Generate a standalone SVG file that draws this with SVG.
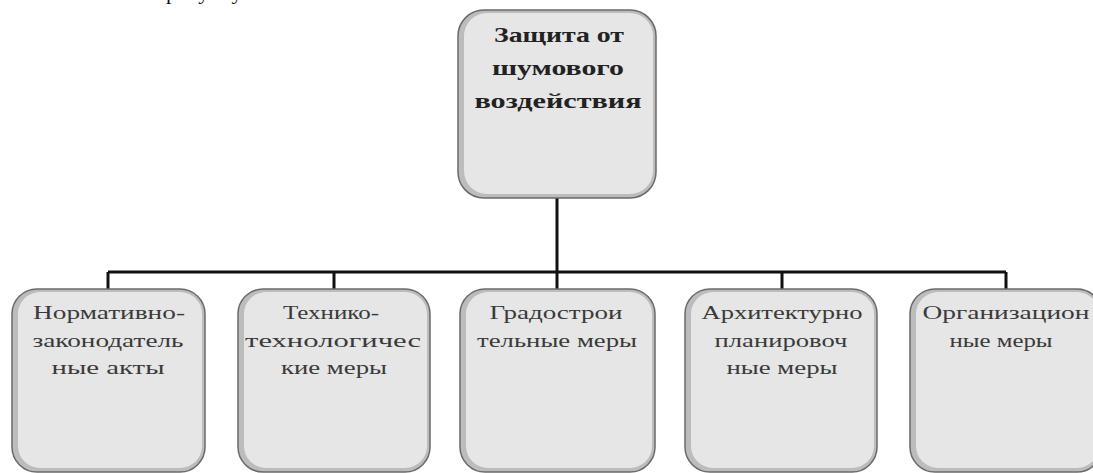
<svg xmlns="http://www.w3.org/2000/svg" width="1093" height="473" viewBox="0 0 1093 473">
<style>
.outer{fill:#bcbcbc;stroke:#6a6a6a;stroke-width:1.5}
.inner{fill:#e6e6e6}
.lbl{font-family:"Liberation Serif","Times New Roman",serif;font-size:18px;fill:#3a3a3a;text-anchor:middle}
.top{font-family:"Liberation Serif","Times New Roman",serif;font-size:21px;font-weight:bold;fill:#222;text-anchor:middle}
.conn{stroke:#111;stroke-width:3;fill:none}
</style>
<rect width="1093" height="473" fill="#fff"/>
<text x="166" y="-1" font-family="Liberation Serif, serif" font-size="22" fill="#111">рисунку</text>
<g id="connectors">
<path class="conn" d="M557 198 V272 M108 272 H1006 M108 272 V289 M334 272 V289 M557 272 V289 M782 272 V289 M1006 272 V289"/>
</g>
<g id="root">
<rect class="outer" x="458" y="10" width="198" height="188" rx="26"/>
<rect class="inner" x="464" y="13" width="189" height="181" rx="23"/>
<text class="top" x="559" y="42" textLength="130" lengthAdjust="spacingAndGlyphs">Защита от</text>
<text class="top" x="558" y="75" textLength="132" lengthAdjust="spacingAndGlyphs">шумового</text>
<text class="top" x="558" y="108" textLength="167" lengthAdjust="spacingAndGlyphs">воздействия</text>
</g>
<g id="n1">
<rect class="outer" x="12" y="289" width="193" height="183" rx="25"/>
<rect class="inner" x="18" y="292" width="184" height="176" rx="22"/>
<text class="lbl" x="109" y="319" textLength="152" lengthAdjust="spacingAndGlyphs">Нормативно-</text>
<text class="lbl" x="108" y="347" textLength="151" lengthAdjust="spacingAndGlyphs">законодатель</text>
<text class="lbl" x="108" y="374" textLength="113" lengthAdjust="spacingAndGlyphs">ные  акты</text>
</g>
<g id="n2">
<rect class="outer" x="238" y="289" width="192" height="183" rx="25"/>
<rect class="inner" x="244" y="292" width="183" height="176" rx="22"/>
<text class="lbl" x="331" y="319" textLength="96" lengthAdjust="spacingAndGlyphs">Технико-</text>
<text class="lbl" x="333" y="347" textLength="176" lengthAdjust="spacingAndGlyphs">технологичес</text>
<text class="lbl" x="334" y="374" textLength="106" lengthAdjust="spacingAndGlyphs">кие меры</text>
</g>
<g id="n3">
<rect class="outer" x="460" y="289" width="195" height="183" rx="25"/>
<rect class="inner" x="466" y="292" width="186" height="176" rx="22"/>
<text class="lbl" x="556" y="319" textLength="133" lengthAdjust="spacingAndGlyphs">Градострои</text>
<text class="lbl" x="557" y="347" textLength="160" lengthAdjust="spacingAndGlyphs">тельные меры</text>
</g>
<g id="n4">
<rect class="outer" x="685" y="289" width="192" height="183" rx="25"/>
<rect class="inner" x="691" y="292" width="183" height="176" rx="22"/>
<text class="lbl" x="782" y="319" textLength="161" lengthAdjust="spacingAndGlyphs">Архитектурно</text>
<text class="lbl" x="781" y="347" textLength="133" lengthAdjust="spacingAndGlyphs">планировоч</text>
<text class="lbl" x="782" y="374" textLength="111" lengthAdjust="spacingAndGlyphs">ные меры</text>
</g>
<g id="n5">
<rect class="outer" x="910" y="289" width="192" height="183" rx="25"/>
<rect class="inner" x="916" y="292" width="183" height="176" rx="22"/>
<text class="lbl" x="1006" y="319" textLength="167" lengthAdjust="spacingAndGlyphs">Организацион</text>
<text class="lbl" x="1001" y="347" textLength="103" lengthAdjust="spacingAndGlyphs">ные меры</text>
</g>
</svg>
